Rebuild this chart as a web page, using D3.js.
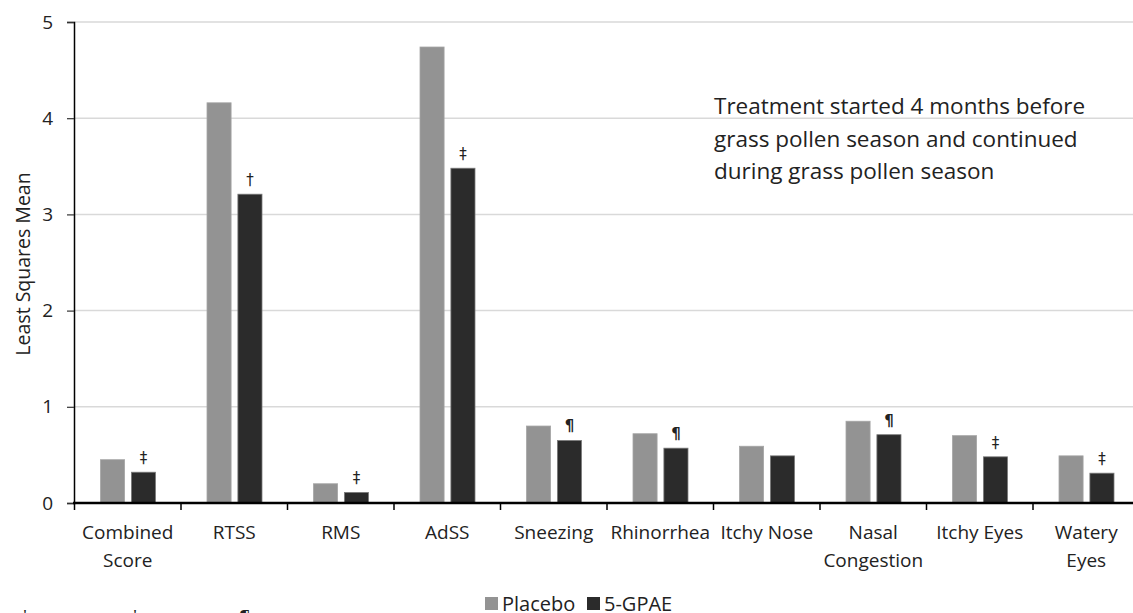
<!DOCTYPE html>
<html><head><meta charset="utf-8">
<script src="https://cdn.jsdelivr.net/npm/d3@7"></script>
<style>body{margin:0;background:#fff;}svg{display:block;font-family:"Open Sans",sans-serif;}</style>
</head><body>
<svg id="c" width="1133" height="613"></svg>
<script>
const categories = ["Combined Score","RTSS","RMS","AdSS","Sneezing","Rhinorrhea","Itchy Nose","Nasal Congestion","Itchy Eyes","Watery Eyes"];
const categoryLines = [["Combined","Score"],["RTSS"],["RMS"],["AdSS"],["Sneezing"],["Rhinorrhea"],["Itchy Nose"],["Nasal","Congestion"],["Itchy Eyes"],["Watery","Eyes"]];
const seriesNames = ["Placebo","5-GPAE"];
const placebo = [0.45,4.16,0.20,4.74,0.80,0.72,0.59,0.85,0.70,0.49];
const gpae    = [0.32,3.21,0.11,3.48,0.65,0.57,0.49,0.71,0.48,0.31];
const marks   = ["‡","†","‡","‡","¶","¶","","¶","‡","‡"];
const yTicks  = [0,1,2,3,4,5];
const noteLines = ["Treatment started 4 months before","grass pollen season and continued","during grass pollen season"];
const footSymbols = ["†","‡","¶"];
const colors = ["#939393","#2b2b2b"];

const svg = d3.select("#c");
const x = d3.scaleBand().domain(categories).range([74.5,1139.5]).padding(0);
const xi = d3.scaleBand().domain(seriesNames).range([26,81]).paddingInner(0.22);
const y = d3.scaleLinear().domain([0,5]).range([503,22]);

// gridlines
svg.append("g").selectAll("line").data(yTicks.filter(d=>d>0)).join("line")
  .attr("x1",74).attr("x2",1133).attr("y1",d=>y(d)).attr("y2",d=>y(d))
  .attr("stroke","#d9d9d9").attr("stroke-width",1.5);

// y axis
const ya = svg.append("g").attr("transform","translate(74,0)")
  .call(d3.axisLeft(y).tickValues(yTicks).tickSize(7).tickPadding(14).tickFormat(d3.format("d")));
ya.select(".domain").attr("stroke","#000").attr("stroke-width",1.5);
ya.selectAll(".tick line").attr("stroke","#333").attr("stroke-width",1.2);
ya.selectAll(".tick text").attr("font-size",19).attr("fill","#222").attr("font-family","Open Sans");

// bars
const series = [placebo,gpae];
const g = svg.append("g");
series.forEach((vals,si)=>{
  g.append("g").selectAll("rect").data(categories).join("rect")
    .attr("x",(c)=>x(c)+xi(seriesNames[si]))
    .attr("width",xi.bandwidth())
    .attr("y",(c,i)=>y(vals[i]))
    .attr("height",(c,i)=>y(0)-y(vals[i]))
    .attr("fill",colors[si])
    .attr("stroke",si===0?"#a5a5a5":"#7a7a7a").attr("stroke-width",0.8);
});

// significance marks
g.append("g").selectAll("text").data(categories).join("text")
  .attr("x",c=>x(c)+xi("5-GPAE")+xi.bandwidth()/2)
  .attr("y",(c,i)=>y(gpae[i])-9)
  .attr("text-anchor","middle").attr("font-size",15).attr("fill","#222")
  .attr("font-family","DejaVu Sans")
  .attr("font-weight",(c,i)=>marks[i]==="¶"?"bold":"normal")
  .text((c,i)=>marks[i]);

// x axis
const xa = svg.append("g").attr("transform","translate(0,503)");
xa.append("line").attr("x1",73).attr("x2",1133).attr("stroke","#000").attr("stroke-width",2.5);
xa.selectAll(".tk").data(categories).join("line").attr("class","tk")
  .attr("x1",c=>x(c)).attr("x2",c=>x(c)).attr("y1",0).attr("y2",7)
  .attr("stroke","#000").attr("stroke-width",1.5);
const lab = xa.selectAll(".lab").data(categories).join("text").attr("class","lab")
  .attr("text-anchor","middle").attr("font-size",19).attr("fill","#222");
lab.each(function(c,i){
  const t=d3.select(this);
  categoryLines[i].forEach((ln,k)=>{
    t.append("tspan").attr("x",x(c)+x.bandwidth()/2).attr("y",36+k*28).text(ln);
  });
});

// y title
svg.append("text").attr("transform","translate(30,264) rotate(-90)")
  .attr("text-anchor","middle").attr("font-size",19.5).attr("fill","#222").text("Least Squares Mean");

// note
svg.append("text").attr("font-size",22.5).attr("fill","#222").selectAll("tspan").data(noteLines).join("tspan")
  .attr("x",714).attr("y",(d,i)=>114+i*32.5).text(d=>d);

// legend
const lg = svg.append("g").attr("transform","translate(0,597)");
const legX = [485,587];
seriesNames.forEach((s,i)=>{
  lg.append("rect").attr("x",legX[i]).attr("y",0).attr("width",13).attr("height",13).attr("fill",colors[i]);
  lg.append("text").attr("x",legX[i]+17).attr("y",13.5).attr("font-size",20).attr("fill","#222").text(s);
});

// footnote symbols (cut off at bottom)
svg.append("g").selectAll("text").data(footSymbols).join("text")
  .attr("x",(d,i)=>25+i*110).attr("y",624).attr("font-size",18).attr("fill","#222").attr("text-anchor","middle")
  .text(d=>d);
</script>
</body></html>
